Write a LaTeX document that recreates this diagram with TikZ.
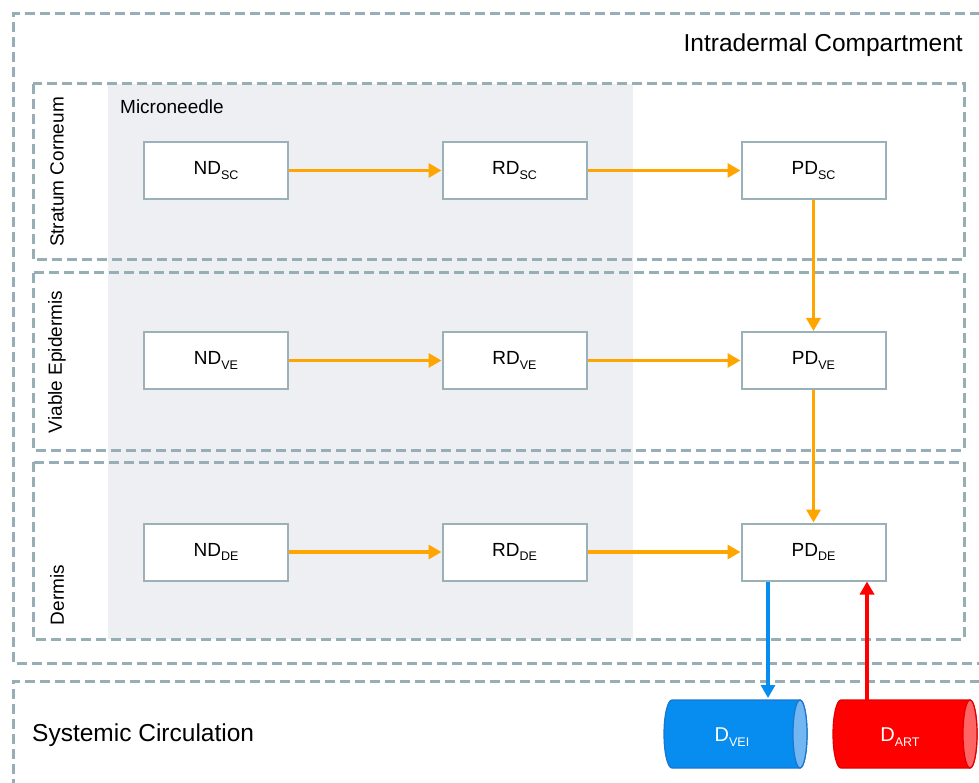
\documentclass[tikz,border=0pt]{standalone}
\usepackage{fontspec}
\setmainfont{Liberation Sans}
\usetikzlibrary{arrows.meta}
\definecolor{dashgray}{HTML}{97AEB7}
\definecolor{boxgray}{HTML}{9BB1B9}
\definecolor{needle}{HTML}{EEEFF3}
\definecolor{arrorange}{HTML}{FFA500}
\definecolor{veiblue}{HTML}{078CEF}
\definecolor{veiend}{HTML}{72B6F2}
\definecolor{veiedge}{HTML}{1B76CF}
\definecolor{artred}{HTML}{FF0000}
\definecolor{artend}{HTML}{FF6565}
\definecolor{artedge}{HTML}{E00000}
\newcommand{\mysub}[1]{\raisebox{-0.25em}{\fontsize{12.5}{12.5}\selectfont #1}}
\tikzset{
  compart/.style={draw=dashgray, line width=3pt, dash pattern=on 10pt off 5pt},
  stagebox/.style={draw=boxgray, line width=2pt, fill=white, minimum width=144pt,
    minimum height=57pt, inner sep=0pt, font=\fontsize{19}{21}\selectfont},
  layerlabel/.style={rotate=90, font=\fontsize{19}{21}\selectfont, inner sep=0pt},
  biglabel/.style={font=\fontsize{24.5}{26}\selectfont, inner sep=0pt},
  flow/.style={draw=arrorange, line width=3.4pt, -{Triangle[length=13pt,width=14pt]}},
  veiflow/.style={draw=veiblue, line width=3.4pt, -{Triangle[length=13pt,width=14pt]}},
  artflow/.style={draw=artred, line width=3.4pt, -{Triangle[length=13pt,width=14pt]}},
  cyllabel/.style={text=white, font=\fontsize{20}{22}\selectfont, inner sep=0pt},
}
\begin{document}
\begin{tikzpicture}[x=1pt,y=-1pt]
\useasboundingbox (0,0) rectangle (979,783);
% microneedle shading
\fill[needle] (108,84) rectangle (633,639);
% outer compartments
\draw[compart] (995,14) -- (13,14) -- (13,663) -- (995,663);
\draw[compart] (995,681) -- (13,681) -- (13,795);
% layers
\draw[compart] (33,84) rectangle (964,260);
\draw[compart] (33,273) rectangle (964,450);
\draw[compart] (33,462) rectangle (964,639);
% labels
\node[biglabel, anchor=east] (intra) at (963,45) {Intradermal Compartment};
\node[biglabel, anchor=west] (syst) at (32,735) {Systemic Circulation};
\node[font=\fontsize{19}{21}\selectfont, inner sep=0pt, anchor=west] (mn) at (120,107) {Microneedle};
\node[layerlabel] (lsc) at (57,172) {Stratum Corneum};
\node[layerlabel] (lve) at (57,362) {Viable Epidermis};
\node[layerlabel] (lde) at (57,595) {Dermis};
% stage boxes
\node[stagebox] (ndsc) at (216,170.5) {ND\mysub{SC}};
\node[stagebox] (rdsc) at (514.5,170.5) {RD\mysub{SC}};
\node[stagebox] (pdsc) at (813.5,170.5) {PD\mysub{SC}};
\node[stagebox] (ndve) at (216,360.5) {ND\mysub{VE}};
\node[stagebox] (rdve) at (514.5,360.5) {RD\mysub{VE}};
\node[stagebox] (pdve) at (813.5,360.5) {PD\mysub{VE}};
\node[stagebox] (ndde) at (216,552) {ND\mysub{DE}};
\node[stagebox] (rdde) at (514.5,552) {RD\mysub{DE}};
\node[stagebox] (pdde) at (813.5,552) {PD\mysub{DE}};
% flows
\draw[flow] (ndsc) -- (rdsc);
\draw[flow] (rdsc) -- (pdsc);
\draw[flow] (ndve) -- (rdve);
\draw[flow] (rdve) -- (pdve);
\draw[flow] (ndde) -- (rdde);
\draw[flow] (rdde) -- (pdde);
\draw[flow] (pdsc) -- (pdve);
\draw[flow] (pdve) -- (pdde);
% cylinders
\filldraw[fill=veiblue, draw=veiedge, line width=1.2pt]
  (800,700) -- (672,700) arc[start angle=270, end angle=90, x radius=8, y radius=34]
  -- (800,768) arc[start angle=90, end angle=-90, x radius=7, y radius=34] -- cycle;
\filldraw[fill=veiend, draw=veiedge, line width=1.2pt] (800,734) ellipse[x radius=7, y radius=34];
\node[cyllabel] (dvei) at (732,737) {D\mysub{VEI}};
\filldraw[fill=artred, draw=artedge, line width=1.2pt]
  (970,700) -- (841,700) arc[start angle=270, end angle=90, x radius=8, y radius=34]
  -- (970,768) arc[start angle=90, end angle=-90, x radius=7, y radius=34] -- cycle;
\filldraw[fill=artend, draw=artedge, line width=1.2pt] (970,734) ellipse[x radius=7, y radius=34];
\node[cyllabel] (dart) at (900,737) {D\mysub{ART}};
\coordinate (veitop) at (768,698);
\coordinate (arttop) at (867,700);
\draw[veiflow] (pdde.south -| veitop) -- (veitop);
\draw[artflow] (arttop) -- (pdde.south -| arttop);
\end{tikzpicture}
\end{document}
